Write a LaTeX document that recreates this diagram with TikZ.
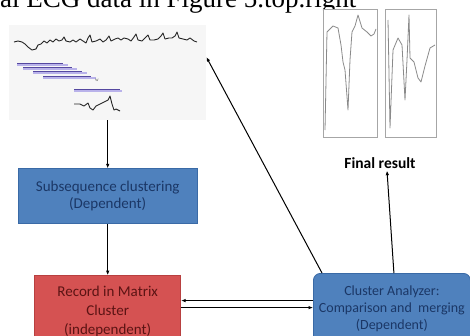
\documentclass[tikz,border=0pt]{standalone}
\usepackage{fontspec}
\setmainfont{Liberation Serif}
\newfontfamily\boxfont{Carlito}
\usepackage{xcolor}
\usetikzlibrary{arrows.meta,
positioning,
calc}
\definecolor{boxblue}{HTML}{4F81BD}
\definecolor{boxblueline}{HTML}{3A6AA6}
\definecolor{boxbluetext}{HTML}{1B3766}
\definecolor{boxred}{HTML}{D55252}
\definecolor{boxredline}{HTML}{B84040}
\definecolor{boxredtext}{HTML}{5C1414}
\definecolor{winline}{HTML}{5548A0}
\definecolor{winlight}{HTML}{B9B2EA}
\definecolor{traceline}{HTML}{8A8A8A}

\begin{document}
\begin{tikzpicture}[
				x=1pt, y=-1pt,
				stage/.style={
					draw=boxblueline,
					fill=boxblue,
					text=boxbluetext,
					font=\boxfont\fontsize{15}{17}\selectfont,
					align=center,
					line width=0.8pt
				},
				panel/.style={
					draw=gray!70,
					fill=white,
					line width=0.8pt,
					inner sep=0pt,
					anchor=north west
				},
				trace/.style={
					draw=black!85,
					line width=0.9pt,
					line join=round
				},
				flow/.style={
					-{Latex[length=4.5pt,width=3.5pt]},
					line width=1.1pt
				}
				]
				\useasboundingbox (0,0) rectangle (470,335);
				\clip (0,0) rectangle (470,335);
				
				\node[anchor=base west, inner sep=0pt, font=\fontsize{27}{29}\selectfont] (caption) at (0,7.5) {al ECG data in Figure 5.top.right};
				
				% ECG signal with sliding windows
				\node[fill=gray!7, inner sep=0pt, minimum width=197pt, minimum height=95pt, anchor=north west] (ecgimg) at (9,25) {};
				\draw[trace] plot coordinates {(14,42) (18,41) (22,42) (25,44) (28,47) (32,50) (36,49) (38,45) (41,44) (44,41) (47,43) (50,40) (53,42) (56,39) (59,41) (62,40) (64,37) (66,41) (70,42) (73,40) (76,42) (80,39) (83,41) (86,43) (88,38) (90,35) (92,42) (96,41) (100,39) (103,42) (106,40) (109,36) (111,41) (115,39) (118,38) (121,40) (124,38) (128,39) (131,41) (134,37) (136,34) (138,40) (142,41) (146,37) (148,35) (150,40) (154,40) (158,39) (161,36) (163,33) (165,39) (169,38) (172,38) (175,36) (177,32) (179,38) (183,39) (187,40) (190,38) (194,41) (197,42)};
				\draw[winlight, line width=1.2pt] (17,65) -- (68,65) (23,69) -- (77,69) (33,73) -- (87,73) (43,78) -- (96,78);
				\draw[winline, line width=0.9pt] (17,63) -- (63,63) (23,67) -- (72,67) (33,71) -- (82,71) (43,76) -- (91,76);
				\node[font=\fontsize{5}{5}\selectfont, text=black!70, inner sep=0pt] (wlabel) at (97,80) {w};
				\draw[winlight, line width=1.2pt] (74,91) -- (122,91);
				\draw[winline, line width=0.9pt] (74,89) -- (120,89);
				\draw[trace] plot coordinates {(74,104) (80,104) (84,106) (88,103) (90,108) (93,110) (96,106) (100,104) (104,102) (108,100) (110,96) (112,104) (114,110) (116,109) (120,111)};
				
				% clustered beats
				\node[panel, minimum width=54pt, minimum height=128pt] (panelA) at (323,9) {};
				\node[panel, minimum width=51pt, minimum height=128pt] (panelB) at (385,9) {};
				\draw[traceline, line width=0.8pt, line join=round] plot coordinates {(325,130) (327,32) (333,26) (338,28) (341,45) (343,62) (345,70) (348,110) (350,60) (352,32) (355,26) (358,15) (362,28) (367,32) (371,36) (374,34) (376,29)};
				\draw[traceline, line width=0.8pt, line join=round] plot coordinates {(388,20) (390,128) (393,50) (398,38) (402,45) (405,100) (407,60) (409,15) (410,58) (414,62) (418,78) (421,82) (425,66) (430,48) (435,45)};
				\node[font=\boxfont\bfseries\fontsize{15.5}{17}\selectfont, inner sep=2pt] (final) at (380,163) {Final result};
				
				\node[stage, minimum width=179pt, minimum height=55pt, below=48pt of ecgimg] (subseq) {Subsequence clustering\\(Dependent)};
				\node[stage, draw=boxredline, fill=boxred, text=boxredtext, font=\boxfont\fontsize{15}{19}\selectfont, minimum width=146pt, minimum height=72pt, below=51pt of subseq] (record) {Record in Matrix\\Cluster\\(independent)};
				\node[stage, rounded corners=7pt, font=\boxfont\fontsize{14}{17}\selectfont, minimum width=157pt, minimum height=70pt, anchor=north west] (analyzer) at (313,273) {Cluster Analyzer:\\Comparison and\ \ merging\\(Dependent)};
				
				\draw[flow] (ecgimg) -- (subseq);
				\draw[flow] (subseq) -- (record);
				\draw[-{Latex[length=4.5pt,width=3.5pt]}, line width=0.8pt] ([yshift=11pt]record.east -| analyzer.west) -- ([yshift=11pt]record.east);
				\draw[-{Latex[length=4.5pt,width=3.5pt]}, line width=0.8pt] ([yshift=4pt]record.east) -- ([yshift=4pt]record.east -| analyzer.west);
				\draw[-{Latex[length=4.5pt,width=3.5pt]}, line width=1pt] ([xshift=9pt]analyzer.north west) -- (ecgimg.9);
				\draw[-{Latex[length=4.5pt,width=3.5pt]}, line width=1pt] ([xshift=2pt]analyzer.north) -- ([xshift=7pt]final.south);
			\end{tikzpicture}
\end{document}
